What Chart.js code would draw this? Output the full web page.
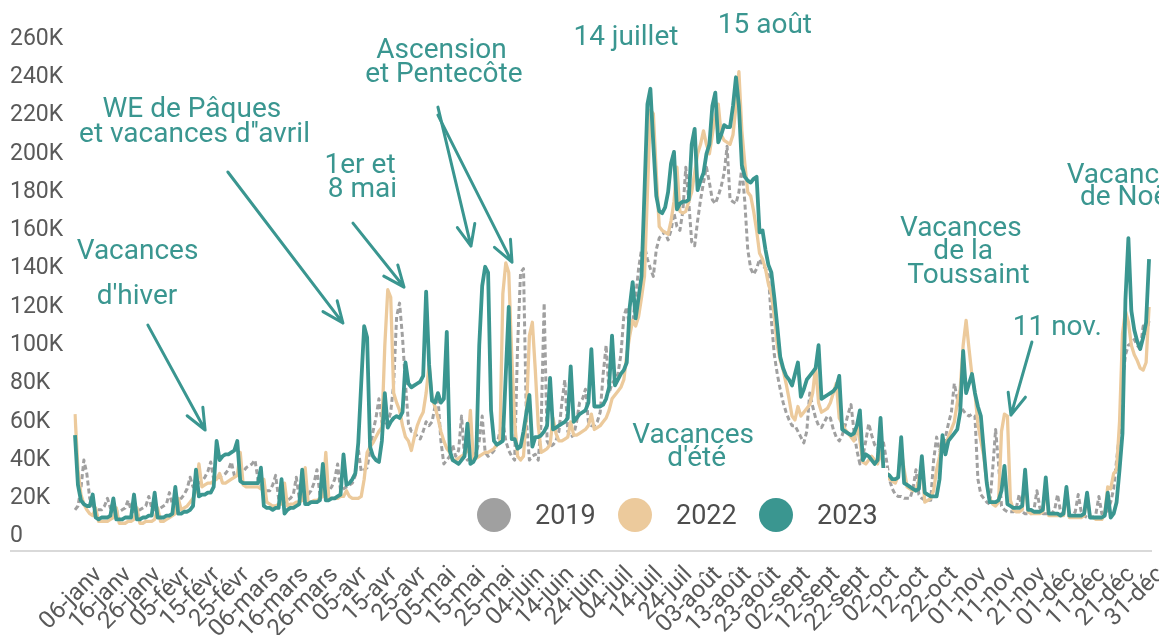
<!DOCTYPE html>
<html lang="fr">
<head>
<meta charset="utf-8">
<script src="https://cdn.jsdelivr.net/npm/chart.js@4.4.1/dist/chart.umd.min.js"></script>
<style>
  html, body { margin: 0; padding: 0; background: #fff; }
  #wrap { width: 1159px; height: 635px; }
</style>
</head>
<body>
<div id="wrap"><canvas id="chart" width="1159" height="635"></canvas></div>
<script>
// Daily traffic, in thousands, on a 366-day axis (29 févr is empty for every year)
const months = ['janv', 'févr', 'mars', 'avr', 'mai', 'juin', 'juil', 'août', 'sept', 'oct', 'nov', 'déc'];
const monthDays = [31, 29, 31, 30, 31, 30, 31, 31, 30, 31, 30, 31];
const yTicks = [0, 20, 40, 60, 80, 100, 120, 140, 160, 180, 200, 220, 240, 260];
const seriesNames = ['2019', '2022', '2023'];

const v2019 = [
  14, 16, 25, 40, 33, 20, 16, 15, 14, 14, 16, 20, 15, 13, 13, 13, 14, 15, 19, 14, 13, 13, 14, 15, 16, 21, 15, 14, 14, 15, 16,
  17, 23, 17, 18, 19, 20, 22, 25, 31, 26, 27, 28, 29, 31, 34, 39, 30, 31, 31, 32, 33, 35, 39, 32, 32, 33, 34, 36, null,
  38, 40, 30, 27, 25, 24, 24, 27, 32, 20, 18, 18, 19, 20, 22, 31, 20, 20, 21, 22, 24, 28, 35, 22, 22, 23, 24, 26, 30, 38, 24,
  25, 26, 27, 28, 32, 46, 34, 35, 36, 45, 55, 62, 72, 60, 58, 60, 65, 80, 115, 122, 104, 80, 59, 55, 55, 52, 51, 55, 60, 58,
  60, 68, 73, 50, 38, 40, 42, 48, 42, 45, 63, 42, 40, 41, 42, 44, 50, 63, 44, 42, 43, 45, 48, 55, 60, 50, 45, 42, 40, 100, 138,
  140, 60, 40, 42, 43, 40, 60, 122, 50, 47, 48, 50, 55, 70, 82, 55, 52, 53, 60, 70, 72, 77, 60, 58, 58, 60, 65, 85, 100, 75,
  80, 82, 85, 95, 115, 120, 108, 112, 125, 140, 150, 152, 145, 140, 136, 150, 156, 158, 159, 155, 160, 169, 162, 160, 170, 193, 175, 154, 152, 165, 176,
  185, 193, 185, 176, 174, 178, 183, 190, 204, 176, 175, 174, 180, 193, 175, 150, 140, 137, 140, 145, 142, 140, 137, 113, 95, 85, 77, 70, 65, 61, 58,
  58, 55, 52, 49, 55, 75, 68, 62, 58, 57, 60, 63, 62, 56, 52, 50, 53, 58, 64, 69, 55, 45, 38, 42, 50, 59, 53, 48, 46, 48,
  49, 40, 30, 25, 22, 21, 21, 20, 20, 20, 25, 35, 22, 20, 19, 19, 19, 40, 52, 45, 48, 52, 59, 65, 80, 72, 68, 66, 64, 63, 64,
  63, 30, 22, 20, 18, 17, 35, 56, 38, 16, 14, 13, 13, 13, 15, 22, 13, 12, 12, 12, 14, 24, 15, 12, 12, 12, 12, 14, 22, 13,
  11, 11, 11, 11, 13, 22, 13, 11, 10, 10, 10, 12, 21, 12, 12, 14, 18, 25, 40, 54, 80, 95, 100, 101, 103, 100, 98, 110, 105, 113, null
];

const v2022 = [
  64, 35, 22, 17, 14, 12, 11, 15, 8, 8, 8, 8, 9, 10, 15, 7, 7, 7, 8, 8, 9, 15, 7, 7, 8, 8, 8, 9, 15, 8, 8,
  9, 10, 11, 12, 20, 14, 15, 16, 18, 20, 24, 38, 26, 27, 28, 28, 29, 30, 33, 28, 28, 29, 30, 31, 32, 44, 27, 26, null,
  26, 26, 26, 25, 30, 18, 17, 16, 16, 17, 17, 28, 16, 17, 17, 18, 18, 19, 36, 18, 18, 19, 19, 20, 21, 44, 20, 20, 20, 20, 21,
  21, 24, 21, 20, 20, 20, 21, 30, 44, 47, 49, 52, 55, 57, 100, 129, 125, 75, 70, 66, 58, 52, 50, 45, 52, 58, 62, 65, 75, 90,
  72, 68, 62, 55, 50, 46, 44, 40, 40, 41, 42, 43, 45, 66, 40, 41, 42, 43, 44, 44, 45, 46, 48, 49, 127, 143, 138, 95, 60, 42, 40,
  42, 65, 105, 112, 87, 58, 44, 45, 46, 48, 62, 54, 50, 50, 51, 52, 60, 53, 53, 54, 55, 56, 58, 64, 56, 57, 58, 60, 62, 66,
  72, 74, 76, 78, 82, 95, 105, 113, 110, 115, 125, 136, 180, 223, 221, 190, 162, 160, 159, 158, 165, 175, 193, 170, 169, 170, 175, 180, 190, 200, 205,
  212, 205, 200, 210, 220, 226, 210, 207, 206, 205, 210, 225, 243, 212, 195, 180, 178, 170, 160, 148, 145, 140, 132, 127, 115, 100, 92, 87, 80, 72, 63,
  61, 68, 63, 65, 67, 69, 75, 89, 70, 65, 66, 67, 70, 75, 80, 62, 59, 56, 54, 52, 50, 58, 50, 39, 38, 40, 42, 40, 38, 45,
  36, 34, 30, 29, 28, 32, 45, 35, 26, 25, 24, 24, 30, 38, 18, 19, 20, 24, 35, 42, 51, 48, 52, 56, 60, 70, 77, 100, 113, 98, 84,
  75, 59, 50, 42, 28, 20, 17, 16, 18, 55, 64, 63, 19, 14, 13, 13, 14, 31, 13, 12, 12, 12, 12, 13, 27, 11, 11, 11, 11, 11,
  11, 24, 10, 10, 10, 10, 10, 11, 22, 10, 10, 9, 9, 9, 12, 26, 25, 33, 35, 60, 106, 118, 112, 100, 95, 92, 88, 87, 91, 120, null
];

const v2023 = [
  53, 27, 19, 17, 16, 16, 22, 10, 9, 10, 10, 10, 11, 20, 9, 9, 9, 10, 10, 10, 22, 9, 9, 10, 10, 11, 11, 23, 10, 10, 10,
  11, 11, 12, 26, 12, 12, 13, 13, 14, 16, 35, 21, 22, 22, 23, 23, 26, 50, 40, 42, 43, 43, 44, 45, 50, 29, 28, 28, null,
  28, 28, 28, 36, 16, 15, 15, 14, 15, 15, 30, 12, 14, 15, 15, 16, 17, 35, 17, 17, 18, 18, 18, 19, 38, 19, 19, 20, 20, 21, 22,
  43, 27, 28, 30, 33, 49, 80, 110, 104, 47, 42, 40, 39, 50, 75, 57, 60, 62, 63, 62, 65, 91, 80, 78, 79, 80, 81, 84, 128, 90,
  71, 70, 75, 70, 72, 107, 45, 40, 39, 38, 40, 42, 59, 38, 39, 42, 100, 131, 141, 138, 66, 50, 48, 49, 50, 85, 120, 51, 51, 46, 47,
  55, 65, 74, 47, 52, 52, 53, 55, 58, 83, 56, 57, 58, 59, 60, 62, 89, 60, 62, 64, 65, 66, 70, 98, 68, 68, 68, 69, 72, 78,
  105, 79, 82, 85, 87, 91, 120, 133, 114, 125, 136, 180, 226, 234, 205, 178, 170, 169, 172, 180, 195, 201, 171, 174, 175, 175, 176, 205, 213, 181, 186,
  190, 200, 205, 225, 232, 206, 210, 215, 214, 214, 225, 240, 225, 194, 188, 186, 185, 187, 188, 159, 160, 150, 142, 138, 125, 110, 94, 88, 84, 82, 79,
  85, 91, 73, 77, 82, 84, 86, 88, 100, 72, 73, 74, 75, 76, 78, 84, 56, 55, 54, 53, 54, 58, 66, 40, 43, 42, 40, 38, 40, 62,
  35, 33, 32, 30, 30, 31, 52, 28, 27, 26, 25, 24, 25, 42, 23, 22, 21, 21, 21, 30, 53, 43, 50, 52, 54, 56, 65, 97, 75, 80, 85,
  75, 68, 63, 45, 28, 18, 18, 18, 19, 24, 37, 17, 16, 15, 15, 15, 16, 35, 14, 14, 13, 13, 13, 14, 31, 12, 12, 12, 12, 11,
  12, 26, 11, 11, 11, 11, 11, 12, 23, 10, 10, 10, 10, 10, 11, 23, 10, 12, 18, 35, 54, 124, 156, 118, 108, 102, 98, 104, 112, 145, null
];

// Annotations, placed in data space: [day index, value in K]
const notes = [
  { text: 'Vacances', at: [21.2, 145] },
  { text: "d'hiver", at: [21.0, 121.5] },
  { text: 'WE de Pâques', at: [39.6, 219] },
  { text: "et vacances d''avril", at: [40.5, 206.3] },
  { text: '1er et', at: [96.6, 189.8] },
  { text: '8 mai', at: [97.4, 177.6] },
  { text: 'Ascension', at: [124.2, 250] },
  { text: 'et Pentecôte', at: [125.0, 237.7] },
  { text: '14 juillet', at: [186.7, 256.8] },
  { text: '15 août', at: [233.8, 262.9] },
  { text: 'Vacances', at: [209.5, 48.7] },
  { text: "d'été", at: [210.7, 36.9] },
  { text: 'Vacances', at: [300.2, 157] },
  { text: 'de la', at: [301.0, 144.9] },
  { text: 'Toussaint', at: [302.8, 132.6] },
  { text: '11 nov.', at: [332.9, 105.3] },
  { text: 'Vacances', at: [356.7, 184.9] },
  { text: 'de Noël', at: [356.7, 173.2] }
];
const arrows = [
  [[24.7, 110.5], [44.1, 55.7]],
  [[51.8, 190.5], [90.8, 111.6]],
  [[94.2, 163.8], [111.5, 130.4]],
  [[123.0, 224.4], [134.2, 151.8]],
  [[123.0, 220.2], [148.1, 143.4]],
  [[324.3, 101.7], [317.2, 63.5]]
];

const labels = [];
months.forEach((m, i) => {
  for (let d = 1; d <= monthDays[i]; d++) labels.push(String(d).padStart(2, '0') + '-' + m);
});

const TEAL = '#3a9690';
const BEIGE = '#ecca9c';
const GREY = '#a0a0a0';
const TEXT = '#595959';

const overlay = {
  id: 'overlay',
  afterDatasetsDraw(chart) {
    const { ctx } = chart;
    const xs = chart.scales.x, ys = chart.scales.y;
    ctx.save();

    // legend sits on a white box over the lines
    ctx.fillStyle = '#ffffff';
    ctx.fillRect(458, 468, 430, 81);
    chart.data.datasets.forEach((ds, i) => {
      const cx = 494 + i * 141;
      ctx.beginPath();
      ctx.arc(cx, 515, 17, 0, Math.PI * 2);
      ctx.fillStyle = ds.borderColor;
      ctx.fill();
      ctx.fillStyle = '#4d4d4d';
      ctx.font = '27px Roboto';
      ctx.textAlign = 'left';
      ctx.textBaseline = 'alphabetic';
      ctx.fillText(ds.label, cx + 41, 524);
    });

    ctx.fillStyle = TEAL;
    ctx.font = '28px Roboto';
    ctx.textAlign = 'center';
    ctx.textBaseline = 'alphabetic';
    notes.forEach(n => {
      ctx.fillText(n.text, xs.getPixelForValue(n.at[0]), ys.getPixelForValue(n.at[1]));
    });

    ctx.strokeStyle = TEAL;
    ctx.lineWidth = 3;
    ctx.lineCap = 'round';
    arrows.forEach(([a, b]) => {
      const x1 = xs.getPixelForValue(a[0]), y1 = ys.getPixelForValue(a[1]);
      const x2 = xs.getPixelForValue(b[0]), y2 = ys.getPixelForValue(b[1]);
      const ang = Math.atan2(y2 - y1, x2 - x1);
      ctx.beginPath();
      ctx.moveTo(x1, y1);
      ctx.lineTo(x2, y2);
      [-0.4, 0.4].forEach(d => {
        ctx.moveTo(x2, y2);
        ctx.lineTo(x2 - 23 * Math.cos(ang + d), y2 - 23 * Math.sin(ang + d));
      });
      ctx.stroke();
    });
    ctx.restore();
  },
  afterDraw(chart) {
    const { ctx, chartArea } = chart;
    ctx.save();
    ctx.strokeStyle = '#d9d9d9';
    ctx.lineWidth = 2;
    ctx.beginPath();
    ctx.moveTo(10, chartArea.bottom);
    ctx.lineTo(chartArea.right, chartArea.bottom);
    ctx.stroke();
    ctx.restore();
  }
};

new Chart(document.getElementById('chart').getContext('2d'), {
  type: 'line',
  data: {
    labels,
    datasets: [
      {
        label: seriesNames[0],
        data: v2019,
        borderColor: GREY,
        borderWidth: 3,
        borderDash: [5, 3],
        order: 3
      },
      {
        label: seriesNames[1],
        data: v2022,
        borderColor: BEIGE,
        borderWidth: 3.3,
        order: 2
      },
      {
        label: seriesNames[2],
        data: v2023,
        borderColor: TEAL,
        borderWidth: 3.8,
        order: 1
      }
    ]
  },
  options: {
    responsive: false,
    animation: false,
    devicePixelRatio: 1,
    spanGaps: true,
    elements: {
      point: { radius: 0 },
      line: { tension: 0, borderJoinStyle: 'round', fill: false }
    },
    layout: { padding: { left: 10, right: 7, top: 39, bottom: 0 } },
    plugins: {
      legend: { display: false },
      tooltip: { enabled: false }
    },
    scales: {
      x: {
        grid: { display: false, drawTicks: false },
        border: { display: false },
        afterFit: s => { s.height = 84; s.paddingLeft = 0; s.paddingRight = 0; },
        ticks: {
          autoSkip: false,
          minRotation: 45,
          maxRotation: 45,
          padding: 10,
          labelOffset: 9,
          color: TEXT,
          font: { family: 'Roboto', size: 24 },
          callback: function (v, i) {
            return i >= 5 && (i - 5) % 10 === 0 ? this.getLabelForValue(v) : '';
          }
        }
      },
      y: {
        min: -7.5,
        max: 260,
        grid: { display: false, drawTicks: false },
        border: { display: false },
        afterBuildTicks: s => { s.ticks = yTicks.map(v => ({ value: v })); },
        afterFit: s => { s.width = 65; },
        ticks: {
          crossAlign: 'far',
          padding: 0,
          color: TEXT,
          font: { family: 'Roboto', size: 23 },
          callback: v => (v === 0 ? '0' : v + 'K')
        }
      }
    }
  },
  plugins: [overlay]
});
</script>
</body>
</html>
